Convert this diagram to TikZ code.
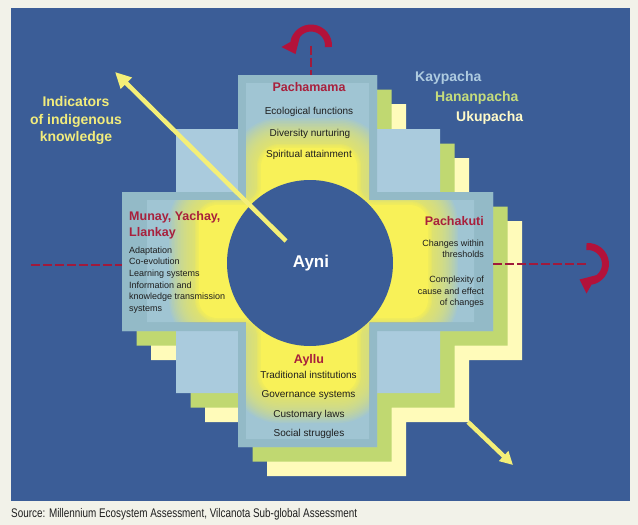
\documentclass[tikz,border=0pt]{standalone}
\usepackage{fontspec}
\setmainfont{Liberation Sans}
\usepackage{graphicx}
\usetikzlibrary{arrows.meta}
\definecolor{pagebg}{HTML}{F2F2E9}
\definecolor{bgblue}{HTML}{3B5D97}
\definecolor{kay}{HTML}{AACBDD}
\definecolor{hanan}{HTML}{C0D871}
\definecolor{uku}{HTML}{FFFBBA}
\definecolor{boxc}{HTML}{93BAC7}
\definecolor{boxin}{HTML}{A0C5D3}
\definecolor{glow}{HTML}{F8F158}
\definecolor{redt}{HTML}{A8203C}
\definecolor{arrred}{HTML}{B3123A}
\definecolor{dashred}{HTML}{A01A3C}
\definecolor{arryel}{HTML}{F4EF78}
\definecolor{txtyel}{HTML}{F2EC7C}
\definecolor{txtdark}{HTML}{1E1E1E}
\definecolor{kaytxt}{HTML}{AECBE0}
\definecolor{hanantxt}{HTML}{C5DC7C}
\definecolor{ukutxt}{HTML}{FFFAC8}
\tikzset{
  head/.style={inner sep=0pt, text=redt, font=\fontsize{12.5}{15}\selectfont\bfseries},
  itemtxt/.style={inner sep=0pt, text=txtdark, font=\fontsize{10}{12}\selectfont},
  smalltxt/.style={inner sep=0pt, text=txtdark, font=\fontsize{9}{11}\selectfont},
  worldtxt/.style={inner sep=0pt, font=\fontsize{14}{16}\selectfont\bfseries},
  dashline/.style={draw=dashred, line width=1.8pt, dash pattern=on 9pt off 3pt},
  redring/.style={draw=arrred, line width=7pt},
  yelarrow/.style={draw=arryel, line width=4.5pt},
}
\begin{document}
\begin{tikzpicture}[x=1pt,y=-1pt]
\useasboundingbox (0,0) rectangle (638,525);
\fill[pagebg] (0,0) rectangle (638,525);
\fill[bgblue] (11,8) rectangle (630,501);
\def\chakpath{(238,75) -- (377,75) -- (377,129) -- (440,129) -- (440,192) -- (493,192) -- (493,331) -- (440,331) -- (440,393) -- (377,393) -- (377,447) -- (238,447) -- (238,393) -- (176,393) -- (176,331) -- (122,331) -- (122,192) -- (176,192) -- (176,129) -- (238,129) -- cycle}
\def\crosspath{(238,75) -- (377,75) -- (377,192) -- (493,192) -- (493,331) -- (377,331) -- (377,447) -- (238,447) -- (238,331) -- (122,331) -- (122,192) -- (238,192) -- cycle}
\def\innerpath{(246,83) -- (369,83) -- (369,200) -- (474,200) -- (474,322) -- (369,322) -- (369,439) -- (246,439) -- (246,322) -- (147,322) -- (147,200) -- (246,200) -- cycle}
\def\corepath{(261,148) -- (357,148) -- (357,205) -- (428,205) -- (428,318) -- (357,318) -- (357,393) -- (261,393) -- (261,318) -- (199,318) -- (199,205) -- (261,205) -- cycle}
% three worlds
\begin{scope}[shift={(29,29)}] \fill[uku] \chakpath; \end{scope}
\begin{scope}[shift={(14.5,14.5)}] \fill[hanan] \chakpath; \end{scope}
\fill[kay] \chakpath;
% boxes
\fill[boxc] \crosspath;
\fill[boxin] \innerpath;
\begin{scope}
  \clip \innerpath;
  \foreach \w in {60,57,...,3}
    \draw[glow, opacity=0.08, line width=\w pt, line join=round, rounded corners=18] \corepath;
  \foreach \w in {8,6,4,2}
    \draw[glow, opacity=0.25, line width=\w pt, line join=round, rounded corners=18] \corepath;
  \fill[glow, rounded corners=18] \corepath;
\end{scope}
% circle
\fill[bgblue] (310,263) circle[radius=83];
\node[inner sep=0pt, text=white, font=\fontsize{17}{20}\selectfont\bfseries, anchor=base] (ayni) at (311,267.7) {Ayni};
% dashed axes and red arrows
\coordinate (topc) at (311,45.5);
\coordinate (pachatop) at (311,75);
\coordinate (rightc) at (588,264);
\coordinate (kutiE) at (493,264);
\coordinate (leftend) at (31,265);
\coordinate (munayW) at (122,265);
\draw[dashline] (topc) -- (pachatop);
\draw[dashline] (kutiE) -- (rightc);
\draw[dashline] (leftend) -- (munayW);
\draw[redring] (topc) ++(5:17.5) arc[start angle=5, end angle=-170, radius=17.5];
\fill[arrred] (300,36.5) -- (281.5,47) -- (295.5,54) -- cycle;
\draw[redring] (rightc) ++(-95:17.5) arc[start angle=-95, end angle=80, radius=17.5];
\fill[arrred] (597,275) -- (586.5,293.5) -- (579.5,279.5) -- cycle;
% Pachamama
\node[head, anchor=base] (pacha) at (309,91) {Pachamama};
\node[itemtxt, anchor=base] (eco) at (309,114) {Ecological functions};
\node[itemtxt, anchor=base] (div) at (310,136) {Diversity nurturing};
\node[itemtxt, anchor=base] (spi) at (309,157.7) {Spiritual attainment};
% Ayllu
\node[head, anchor=base] (ayllu) at (309,363) {Ayllu};
\node[itemtxt, anchor=base] (trad) at (308.5,378.7) {Traditional institutions};
\node[itemtxt, anchor=base] (gov) at (308.5,397.7) {Governance systems};
\node[itemtxt, anchor=base] (cust) at (309,417.2) {Customary laws};
\node[itemtxt, anchor=base] (soc) at (309,436) {Social struggles};
% Munay
\node[head, anchor=base west] (munay1) at (129,220) {Munay, Yachay,};
\node[head, anchor=base west] (munay2) at (129,236.7) {Llankay};
\node[smalltxt, anchor=base west] (m1) at (129,253.3) {Adaptation};
\node[smalltxt, anchor=base west] (m2) at (129,264.9) {Co-evolution};
\node[smalltxt, anchor=base west] (m3) at (129,276.5) {Learning systems};
\node[smalltxt, anchor=base west] (m4) at (129,288.1) {Information and};
\node[smalltxt, anchor=base west] (m5) at (129,299.7) {knowledge transmission};
\node[smalltxt, anchor=base west] (m6) at (129,311.3) {systems};
% Pachakuti
\node[head, anchor=base east] (kuti) at (484,225.5) {Pachakuti};
\node[smalltxt, anchor=base east] (k1) at (484,246.3) {Changes within};
\node[smalltxt, anchor=base east] (k2) at (484,257.9) {thresholds};
\node[smalltxt, anchor=base east] (k3) at (484,282.5) {Complexity of};
\node[smalltxt, anchor=base east] (k4) at (484,294.1) {cause and effect};
\node[smalltxt, anchor=base east] (k5) at (484,305.7) {of changes};
% worlds labels
\node[worldtxt, text=kaytxt, anchor=base west] (kaylab) at (415,81.7) {Kaypacha};
\node[worldtxt, text=hanantxt, anchor=base west] (hananlab) at (435,101.7) {Hananpacha};
\node[worldtxt, text=ukutxt, anchor=base west] (ukulab) at (456,121.7) {Ukupacha};
% indicators
\node[worldtxt, text=txtyel, anchor=base] (ind1) at (76,106.7) {Indicators};
\node[worldtxt, text=txtyel, anchor=base] (ind2) at (76,124) {of indigenous};
\node[worldtxt, text=txtyel, anchor=base] (ind3) at (76,141.7) {knowledge};
% yellow arrows
\coordinate (yA) at (286,241);
\coordinate (yAtip) at (115,72);
\draw[yelarrow, -{Triangle[length=16pt,width=15pt]}] (yA) -- (yAtip);
\coordinate (yB) at (468,422);
\coordinate (yBtip) at (513,465);
\draw[yelarrow, -{Triangle[length=13pt,width=13pt]}] (yB) -- (yBtip);
% caption
\node[anchor=base west, inner sep=0pt, text=txtdark, font=\fontsize{12.5}{14}\selectfont] (src) at (11,517.3) {\resizebox{346pt}{\height}{Source: Millennium Ecosystem Assessment, Vilcanota Sub-global Assessment}};
\end{tikzpicture}
\end{document}
